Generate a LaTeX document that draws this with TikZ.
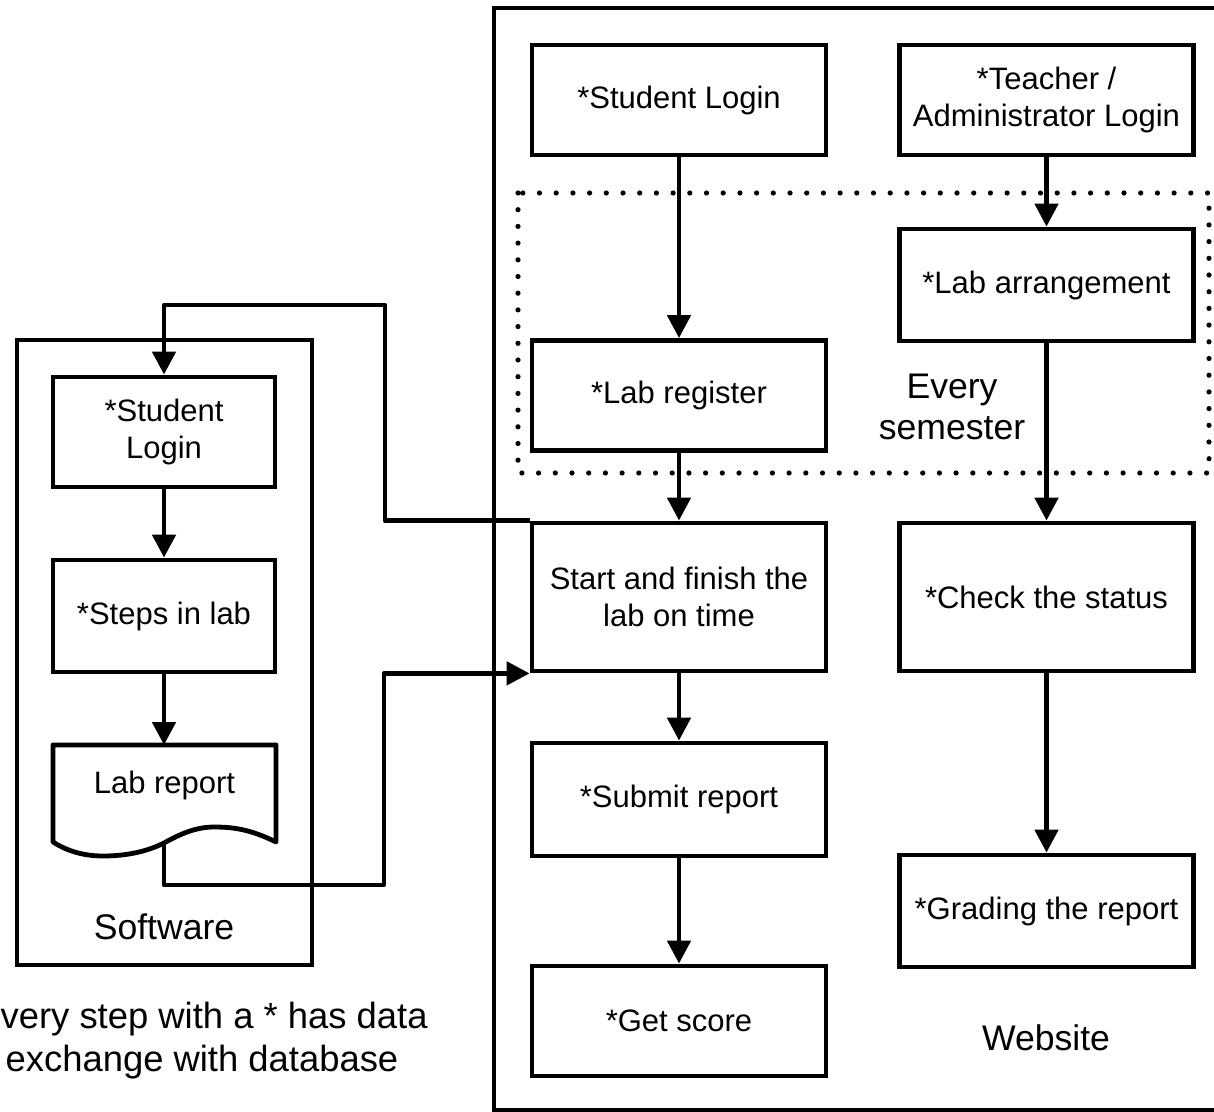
\documentclass[tikz,border=0pt]{standalone}
\usepackage{fontspec}
\setmainfont{Liberation Sans}
\usetikzlibrary{arrows.meta}
\tikzset{
  box/.style={draw, line width=2.4pt, minimum width=147pt, minimum height=55pt, align=center, inner sep=2pt,
    font=\fontsize{15.5}{18.7}\selectfont},
  sbox/.style={box, minimum width=111pt},
  conn/.style={line width=2.4pt, line join=round, -{Triangle[length=11.5pt,width=11.5pt]}},
  frame/.style={line width=2.3pt},
  biglabel/.style={align=center, font=\fontsize{17.8}{20.6}\selectfont},
  dotframe/.style={line width=2.6pt, line cap=round, dash pattern=on 0pt off 8.35pt}
}
\begin{document}
\begin{tikzpicture}[x=0.5pt,y=-0.5pt]
\useasboundingbox (0,0) rectangle (1214,1112);
\fill[white] (0,0) rectangle (1214,1112);

% frames
\draw[frame] (494,8) rectangle (1232,1110);
\draw[frame] (17,340) rectangle (312,965);
\draw[dotframe] (518,193) rectangle (1209,473);

% website nodes
\node[box] (wsl) at (679,100) {*Student Login};
\node[box] (tal) at (1046.5,100) {*Teacher /\\Administrator Login};
\node[box] (lreg) at (679,395.5) {*Lab register};
\node[box, minimum height=56pt] (larr) at (1046.5,285) {*Lab arrangement};
\node[box, minimum height=74pt] (start) at (679,597) {Start and finish the\\lab on time};
\node[box, minimum height=74pt] (check) at (1046.5,597) {*Check the status};
\node[box, minimum height=56.5pt] (submit) at (679,799.5) {*Submit report};
\node[box, minimum height=56pt] (grade) at (1046.5,911) {*Grading the report};
\node[box] (score) at (679,1021) {*Get score};

% software nodes
\node[sbox] (sl) at (164,432) {*Student\\Login};
\node[sbox, minimum height=56pt] (steps) at (164,616) {*Steps in lab};
\draw[line width=2.4pt, line join=round] (53,745) -- (276,745) -- (276,842)
  .. controls (250,829) and (232,827) .. (214,827)
  .. controls (196,827) and (180,834) .. (164,843)
  .. controls (148,851) and (128,856) .. (103,856)
  .. controls (80,856) and (64,849) .. (53,842) -- cycle;
\node[font=\fontsize{15.5}{18.7}\selectfont] (rep) at (164.5,785) {Lab report};
\coordinate (repout) at (164,843);
\coordinate (reptop) at (164,745);

% labels
\node[biglabel] (every) at (952,407) {Every\\semester};
\node[biglabel] (sw) at (164,927) {Software};
\node[biglabel] (web) at (1046,1038) {Website};
\node[biglabel, font=\fontsize{18.2}{21.5}\selectfont] (note) at (202,1041) {Every step with a * has data\\exchange with database};

% connectors
\draw[conn] (wsl) -- (lreg);
\draw[conn] (tal) -- (larr);
\draw[conn] (lreg) -- (start);
\draw[conn] (larr) -- (check);
\draw[conn] (start) -- (submit);
\draw[conn] (check) -- (grade);
\draw[conn] (submit) -- (score);
\draw[conn] (sl) -- (steps);
\draw[conn] (steps.south) -- (reptop);
\draw[conn] (repout) |- (384,885) |- (start.south west);
\draw[conn] (start.north west) -| (385,305) -| (sl.north);
\end{tikzpicture}
\end{document}
